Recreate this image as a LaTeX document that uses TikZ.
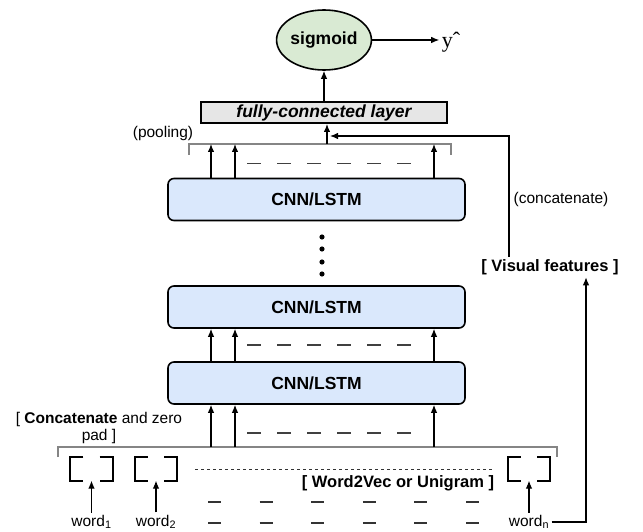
\documentclass[tikz,border=0pt]{standalone}
\usepackage{fontspec}
\setmainfont{Liberation Sans}
\newfontfamily\hatfont{Liberation Serif}
\usepackage{tikz}
\usetikzlibrary{calc}
\usetikzlibrary{arrows.meta, positioning, shapes}
\definecolor{CNN}{HTML}{DAE8FC}
\definecolor{FCL}{HTML}{E6E6E6}
\definecolor{SIG}{HTML}{D9EAD3}
\definecolor{BRK}{HTML}{858585}
\tikzset{
  CNN/.style={% Style for the CNN/LSTM layers
      rectangle, rounded corners=6pt,
      line width=1.6pt,
      minimum width=297pt,
      minimum height=42pt,
      font=\fontsize{17.5}{20}\selectfont\bfseries,
      fill=CNN,
      draw=black,
  },
  FCL/.style={% Style for the dense layer
      rectangle,
      line width=2pt,
      minimum width=246pt,
      minimum height=21pt,
      inner sep=0pt,
      font=\fontsize{17.5}{20}\selectfont\bfseries\itshape,
      fill=FCL,
      draw=black,
  },
  SIG/.style={% Style for the output unit
      ellipse,
      line width=1.6pt,
      minimum width=82pt,
      minimum height=60pt,
      inner sep=0pt,
      font=\fontsize{17.5}{20}\selectfont\bfseries,
      fill=SIG,
      draw=black,
  },
  LBL/.style={font=\fontsize{15.5}{17}\selectfont, inner sep=2pt},
  BLBL/.style={font=\fontsize{16.5}{19}\selectfont\bfseries, inner sep=2pt},
  EMB/.style={rectangle, minimum width=41pt, minimum height=22pt, inner sep=0pt},
  bkt/.style={line width=2pt},
  brk/.style={draw=BRK, line width=1.3pt},
  gaps/.style={draw=black!75, line width=1.2pt, dash pattern=on 14pt off 16pt},
  dashrow/.style={draw=black!80, line width=1.2pt, dash pattern=on 13pt off 38.6pt},
  dotrow/.style={draw=black!80, line width=0.9pt, dash pattern=on 3pt off 3pt},
}
\def\embed(#1)#2{% an empty word vector: a pair of square brackets
  \node[EMB] (#2) at (#1) {};
  \draw[bkt] ([xshift=13pt]#2.north west) -| (#2.south west) -- ++(13pt,0);
  \draw[bkt] ([xshift=-13pt]#2.north east) -| (#2.south east) -- ++(-13pt,0);
}
\def\feed(#1)(#2)#3{% three arrows upwards and the gap dashes between them
  \foreach \c in {colA,colB,colN}
    \draw[->] (#1 -| \c) -- (#2 -| \c);
  \coordinate (mid) at ($(#1)!#3!(#2)$);
  \draw[gaps] ([xshift=12pt]mid -| colB) -- ([xshift=-14pt]mid -| colN);
}

\begin{document}
\begin{tikzpicture}[x=1pt, y=-1pt, line width=1.2pt, >={Latex[length=8pt,width=6.5pt]}]
  \useasboundingbox (0,0) rectangle (643,532);
  % columns of the arrows
  \coordinate (colA) at (211,0);
  \coordinate (colB) at (235,0);
  \coordinate (colN) at (434,0);

  % layers
  \node[SIG] (sig) at (324,40) {sigmoid};
  \node[inner sep=2pt, font=\fontsize{22}{24}\hatfont] (yhat) at (451,42) {yˆ};
  \node[FCL] (fc) at (324,112.5) {fully-connected layer};
  \node[CNN] (cnnA) at (316.5,199.5) {CNN/LSTM};
  \node[CNN] (cnnB) at (316.5,307) {CNN/LSTM};
  \node[CNN] (cnnC) at (316.5,383) {CNN/LSTM};
  \foreach \y in {237,249,262,274}
    \fill (322,\y) circle (2.6pt);

  \draw[->] (sig.east) -- (sig.east -| yhat.west);
  \draw[->] (fc) -- (sig);

  % pooling bracket
  \coordinate (poolL) at (189,144);
  \coordinate (poolR) at (451,144);
  \coordinate (poolM) at (327,144);
  \draw[brk] ([yshift=-11pt]poolL) -- (poolL) -- (poolR) -- ([yshift=-11pt]poolR);
  \draw[->] (poolM) -- (poolM |- fc.south);
  \node[LBL] (pooltxt) at (163,133) {(pooling)};
  \feed(cnnA.north)(poolL){0.41}
  \feed(cnnC.north)(cnnB.south){0.5}

  % concatenation bracket
  \coordinate (padL) at (58,447);
  \coordinate (padR) at (557,447);
  \draw[brk] ([yshift=-10pt]padL) -- (padL) -- (padR) -- ([yshift=-10pt]padR);
  \feed(padL)(cnnC.south){0.33}
  \node[LBL, align=center] (padtxt) at (99,428) {[ \textbf{Concatenate} and zero\\pad ]};

  % word vectors
  \embed(91.5,469){embA}
  \embed(156,469){embB}
  \embed(529,469){embN}
  \node[LBL] (wordA) at (91.5,522) {word\textsubscript{1}};
  \node[LBL] (wordB) at (156,522) {word\textsubscript{2}};
  \node[LBL] (wordN) at (529,522) {word\textsubscript{n}};
  \foreach \w in {A,B,N}
    \draw[->] (word\w.north) -- (word\w.north |- emb\w.south);
  \draw[dotrow] (195,469) -- (492,469);
  \node[BLBL] (w2v) at (398,483) {[ Word2Vec or Unigram ]};
  \foreach \y in {502,523}
    \draw[dashrow] (208,\y) -- (480,\y);

  % visual branch
  \node[BLBL] (visual) at (550,267) {[ Visual features ]};
  \draw[->] (wordN.east) -| ([xshift=36pt]visual.south);
  \draw[->] ([xshift=-41pt]visual.north) |- ([xshift=6pt,yshift=-12pt]fc.south);
  \node[LBL, anchor=west] (cattxt) at (511,199) {(concatenate)};
\end{tikzpicture}
\end{document}
